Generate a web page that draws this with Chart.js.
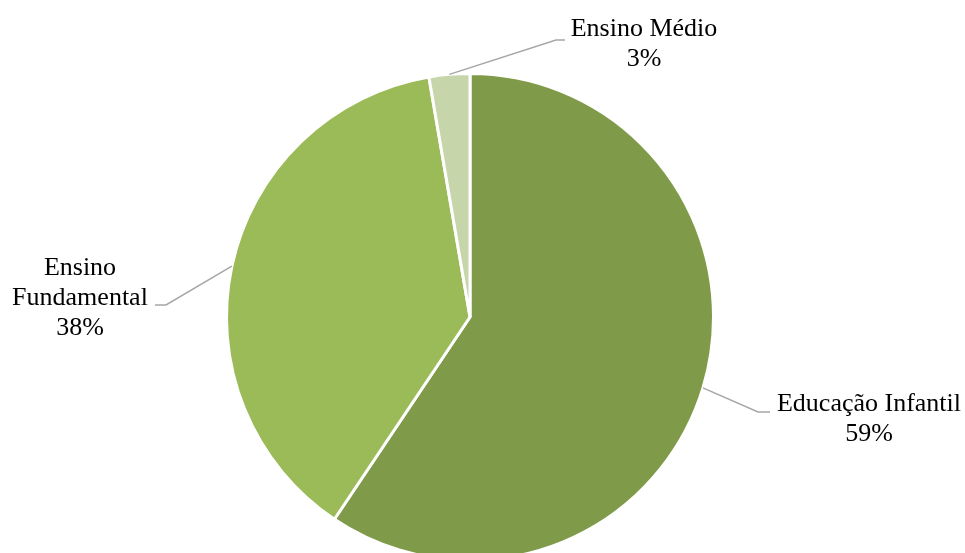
<!DOCTYPE html>
<html>
<head>
<meta charset="utf-8">
<script src="https://cdn.jsdelivr.net/npm/chart.js@4"></script>
<style>
  html, body { margin: 0; padding: 0; background: #fff; overflow: hidden; }
  #wrap { width: 965px; height: 553px; overflow: hidden; }
</style>
</head>
<body>
<div id="wrap"><canvas id="pieChart" width="965" height="634"></canvas></div>
<script>
// Chart values (shares)
const categories = ["Educação Infantil", "Ensino Fundamental", "Ensino Médio"];
const shares = [59.4, 37.9, 2.7];
const sliceColors = ["#7F9B4A", "#9BBB59", "#C6D6AA"];

// name lines for each label (percentage is added from the data)
const labelNames = [
  ["Educação Infantil"],
  ["Ensino", "Fundamental"],
  ["Ensino Médio"]
];

// where each label sits and where its leader line bends
const labelLayout = [
  { x: 869, y: 411, elbow: [758, 412], end: [770, 412] },
  { x: 80, y: 275, elbow: [166, 305], end: [155, 305] },
  { x: 644, y: 36, elbow: [556, 40], end: [565, 40] }
];

const leaderLabels = {
  id: "leaderLabels",
  afterDatasetsDraw(chart) {
    const ctx = chart.ctx;
    const arcs = chart.getDatasetMeta(0).data;
    const values = chart.data.datasets[0].data;
    const total = values.reduce((a, b) => a + b, 0);
    ctx.save();
    arcs.forEach((arc, i) => {
      const p = arc.getProps(["x", "y", "startAngle", "endAngle", "outerRadius"], true);
      const mid = (p.startAngle + p.endAngle) / 2;
      const sx = p.x + Math.cos(mid) * p.outerRadius;
      const sy = p.y + Math.sin(mid) * p.outerRadius;
      const lay = labelLayout[i];

      ctx.strokeStyle = "#A6A6A6";
      ctx.lineWidth = 1.5;
      ctx.beginPath();
      ctx.moveTo(sx, sy);
      ctx.lineTo(lay.elbow[0], lay.elbow[1]);
      ctx.lineTo(lay.end[0], lay.end[1]);
      ctx.stroke();

      const lines = labelNames[i].concat([Math.round(values[i] / total * 100) + "%"]);
      ctx.fillStyle = "#000";
      ctx.font = "26px 'Liberation Serif', 'Times New Roman', serif";
      ctx.textAlign = "center";
      ctx.textBaseline = "alphabetic";
      lines.forEach((line, k) => {
        ctx.fillText(line, lay.x, lay.y + k * 30);
      });
    });
    ctx.restore();
  }
};

new Chart(document.getElementById("pieChart"), {
  type: "pie",
  data: {
    labels: categories,
    datasets: [{
      data: shares,
      backgroundColor: sliceColors,
      borderColor: "#FFFFFF",
      borderWidth: 3,
      hoverOffset: 0
    }]
  },
  options: {
    responsive: false,
    animation: false,
    layout: { padding: { top: 72, bottom: 72, left: 0, right: 25 } },
    plugins: {
      legend: { display: false },
      tooltip: { enabled: false }
    }
  },
  plugins: [leaderLabels]
});
</script>
</body>
</html>
